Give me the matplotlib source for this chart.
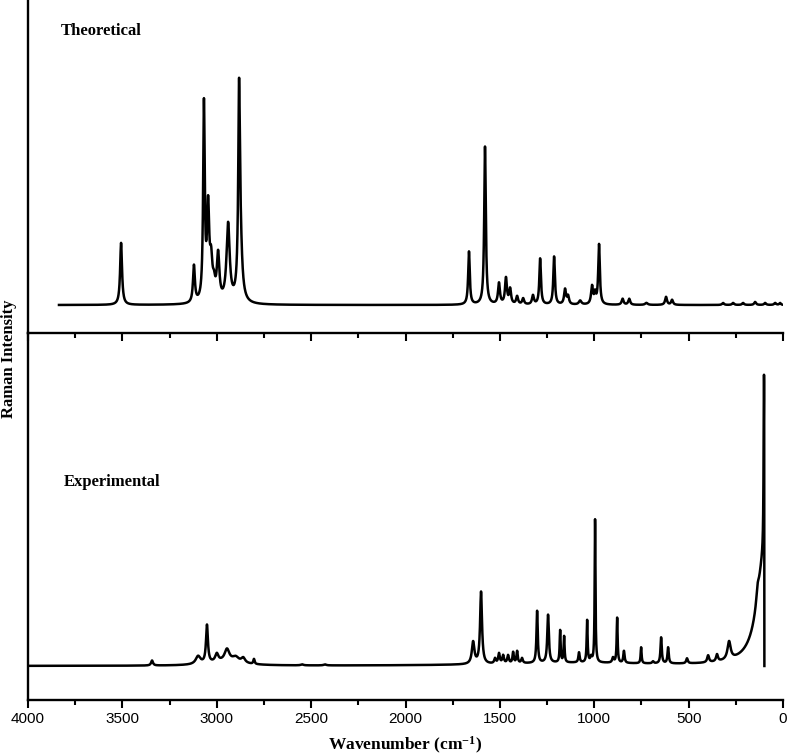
import numpy as np
import matplotlib
matplotlib.use("Agg")
from matplotlib import pyplot as plt
from matplotlib.ticker import MultipleLocator

plt.rcParams['mathtext.fontset'] = 'custom'
plt.rcParams['mathtext.rm'] = 'Liberation Serif:bold'
plt.rcParams['mathtext.it'] = 'Liberation Serif:bold:italic'

# theoretical bands: centre (cm-1), height, half width
theo_centers = [3507, 3121, 3068, 3046, 3030, 3015, 2993, 2940, 2882, 2876,
                1664, 1579, 1505, 1468, 1446, 1409, 1377, 1325, 1287, 1213,
                1155, 1139, 1075, 1012, 996, 975, 850, 815, 724, 620, 588,
                318, 265, 212, 148, 95, 42, 16]
theo_heights = [62, 37, 195, 90, 35, 14, 46, 78, 178, 60,
                53, 158, 21, 26, 15, 8, 6, 9, 46, 48,
                15, 8, 4, 18, 10, 60, 6, 6, 2, 8, 5,
                2, 2, 2, 3, 2, 2, 2]
theo_widths = [6, 6, 5, 7, 8, 8, 8, 10, 5, 11,
               5, 5, 6, 6, 6, 6, 6, 6, 5, 5,
               6, 6, 8, 6, 5, 5, 6, 6, 8, 6, 6,
               6, 6, 6, 6, 6, 6, 5]
theo_start, theo_end = 3836, 0

# experimental bands
exp_centers = [3343, 3099, 3052, 3000, 2946, 2900, 2860, 2803, 2950, 2548, 2427,
               1642, 1600, 1526, 1505, 1483, 1457, 1430, 1409, 1383, 1303, 1245,
               1181, 1160, 1081, 1038, 1017, 996, 901, 879, 843, 752, 689, 646,
               609, 509, 397, 350, 286, 135, 100, 101, 1100]
exp_heights = [5, 8, 38, 8, 12, 5, 5, 5, 4, 1, 1,
               22, 72, 5, 10, 8, 8, 11, 12, 5, 52, 48,
               32, 26, 10, 42, 5, 143, 5, 45, 12, 16, 2, 26,
               16, 5, 7, 7, 18, 12, 110, 180, 3]
exp_widths = [6, 15, 6, 10, 15, 20, 12, 4, 100, 8, 8,
              8, 6, 5, 5, 5, 5, 4, 4, 5, 4, 5,
              3, 3, 4, 3, 5, 2.5, 5, 3, 4, 3, 5, 4,
              4, 5, 6, 6, 10, 8, 45, 2.5, 500]
exp_start, exp_end = 4000, 99
notch_edge = 100


def spectrum(x, centers, heights, widths):
    y = np.zeros_like(x)
    for c, h, w in zip(centers, heights, widths):
        y += h * w**2 / ((x - c)**2 + w**2)
    return y


x_theo = np.arange(theo_start, theo_end - 0.5, -0.5)
y_theo = spectrum(x_theo, theo_centers, theo_heights, theo_widths)
x_exp = np.arange(exp_start, exp_end - 0.5, -0.5)
y_exp = spectrum(x_exp, exp_centers, exp_heights, exp_widths)
y_exp[x_exp < notch_edge] = 0

fig = plt.figure(figsize=(7.87, 7.56), dpi=100)
ax2 = fig.add_axes([0.0356, 0.0741, 0.9594, 0.4854])
ax1 = fig.add_axes([0.0356, 0.5595, 0.9594, 0.4405])
ax1.patch.set_visible(False)

ax1.plot(x_theo, y_theo, color='black', lw=1.8)
ax2.plot(x_exp, y_exp, color='black', lw=1.8)

ax1.set_ylim(-28, 305)
ax2.set_ylim(-34, 333)

for ax in (ax1, ax2):
    ax.set_xlim(4000, 0)
    ax.spines['top'].set_visible(False)
    ax.spines['right'].set_visible(False)
    ax.spines['left'].set_linewidth(1.7)
    ax.spines['bottom'].set_linewidth(1.7)
    ax.set_yticks([])
    ax.xaxis.set_major_locator(MultipleLocator(500))
    ax.xaxis.set_minor_locator(MultipleLocator(250))
    ax.tick_params(axis='x', which='major', direction='out', length=6, width=1.5)
    ax.tick_params(axis='x', which='minor', direction='out', length=3.5, width=1.5)

ax1.tick_params(axis='x', labelbottom=False)
for lab in ax2.get_xticklabels():
    lab.set_fontfamily('Liberation Sans')
    lab.set_fontsize(11)
ax2.tick_params(axis='x', pad=3)

ax1.text(0.0437, 0.907, 'Theoretical', transform=ax1.transAxes,
         fontfamily='Liberation Serif', fontweight='bold', fontsize=12, va='center')
ax2.text(0.0477, 0.594, 'Experimental', transform=ax2.transAxes,
         fontfamily='Liberation Serif', fontweight='bold', fontsize=12, va='center')

ax2.set_xlabel('Wavenumber (cm$^{-1}$)', fontfamily='Liberation Serif',
               fontweight='bold', fontsize=12.5, labelpad=6)
fig.text(0.012, 0.525, 'Raman Intensity', rotation=90, fontfamily='Liberation Serif',
         fontweight='bold', fontsize=12, va='center', ha='center')

fig.savefig('out.png', dpi=100)
